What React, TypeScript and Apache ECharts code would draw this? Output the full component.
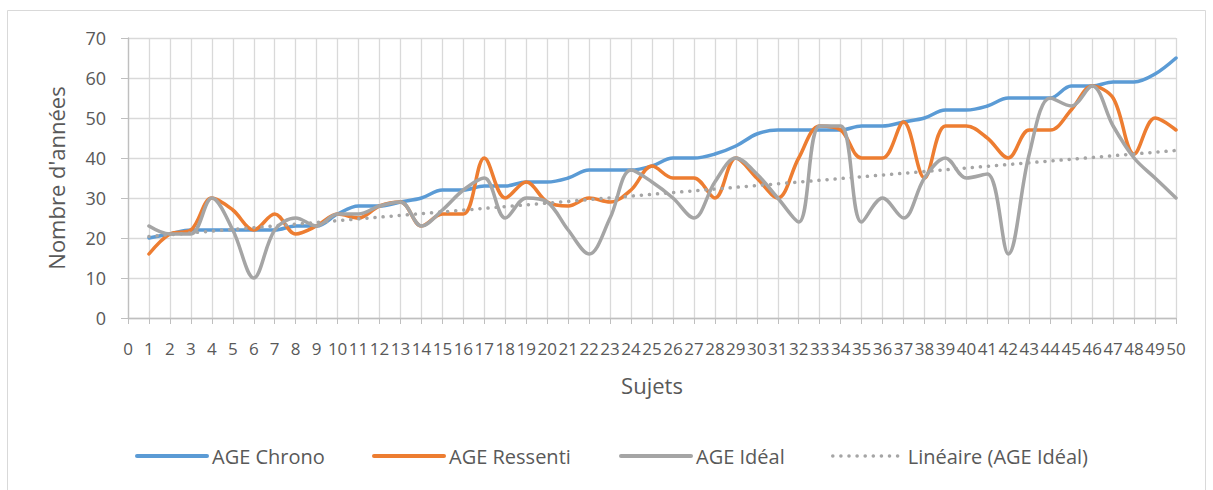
import React, { useEffect, useRef } from "react";
import * as echarts from "echarts";

const categories = ["0","1","2","3","4","5","6","7","8","9","10","11","12","13","14","15","16","17","18","19","20","21","22","23","24","25","26","27","28","29","30","31","32","33","34","35","36","37","38","39","40","41","42","43","44","45","46","47","48","49","50"];

const ageChrono = [20,21,22,22,22,22,22,23,23,26,28,28,29,30,32,32,33,33,34,34,35,37,37,37,38,40,40,41,43,46,47,47,47,47,48,48,49,50,52,52,53,55,55,55,58,58,59,59,61,65];
const ageRessenti = [16,21,22,30,27,22,26,21,23,26,25,28,29,23,26,26,40,30,34,29,28,30,29,32,38,35,35,30,40,35,30,40,48,47,40,40,49,35,48,48,45,40,47,47,52,58,55,41,50,47];
const ageIdeal = [23,21,21,30,22,10,22,25,23,26,26,28,29,23,27,32,35,25,30,29,22,16,25,37,34,30,25,34,40,36,30,24,48,48,24,30,25,35,40,35,36,16,41,55,53,58,48,40,35,30];

const seriesNames = ["AGE Chrono", "AGE Ressenti", "AGE Idéal", "Linéaire (AGE Idéal)"];
const yTicks = { min: 0, max: 70, interval: 10 };

function linearTrend(values: number[]): number[] {
  const n = values.length;
  let sx = 0, sy = 0, sxx = 0, sxy = 0;
  values.forEach((v, i) => {
    const x = i + 1;
    sx += x; sy += v; sxx += x * x; sxy += x * v;
  });
  const slope = (n * sxy - sx * sy) / (n * sxx - sx * sx);
  const intercept = (sy - slope * sx) / n;
  return values.map((_, i) => +(intercept + slope * (i + 1)).toFixed(3));
}

export default function App() {
  const ref = useRef<HTMLDivElement>(null);
  useEffect(() => {
    if (!ref.current) return;
    const chart = echarts.init(ref.current, undefined, { renderer: "svg" });
    const font = "'Open Sans', sans-serif";
    const txt = "#595959";
    const grid = "#d9d9d9";
    const pad = (arr: number[]) => [null, ...arr];
    const trend = linearTrend(ageIdeal);
    const colors = ["#5B9BD5", "#ED7D31", "#A5A5A5", "#A5A5A5"];
    const legendLefts = [135, 372, 619, 831];
    const dotted = [0.1, 8];
    chart.setOption({
      animation: false,
      color: colors,
      textStyle: { fontFamily: font },
      graphic: [
        {
          type: "rect",
          shape: { x: 7.5, y: 10.5, width: 1198, height: 490 },
          style: { fill: "none", stroke: "#d9d9d9", lineWidth: 1 },
          silent: true,
        },
      ],
      grid: { left: 128, top: 38, width: 1048, height: 280, containLabel: false },
      legend: legendLefts.map((l, i) => ({
        data: [seriesNames[i]],
        left: l,
        top: 446,
        padding: 0,
        itemWidth: 70,
        itemHeight: 14,
        itemGap: 0,
        itemStyle: { opacity: 0 },
        lineStyle: i === 3
          ? { width: 3.5, color: colors[i], type: dotted, cap: "round" }
          : { width: 4, color: colors[i] },
        textStyle: { fontFamily: font, fontSize: 20, color: txt },
        selectedMode: false,
      })),
      xAxis: {
        type: "category",
        data: categories,
        boundaryGap: false,
        name: "Sujets",
        nameLocation: "middle",
        nameGap: 56,
        nameTextStyle: { fontFamily: font, fontSize: 22, color: txt },
        axisLine: { lineStyle: { color: "#bfbfbf", width: 1.3 } },
        axisTick: { show: true, length: 6, lineStyle: { color: "#bfbfbf" }, interval: 0 },
        axisLabel: { interval: 0, fontFamily: font, fontSize: 17, color: txt, margin: 22 },
        splitLine: { show: true, interval: 0, lineStyle: { color: grid, width: 1.3 } },
      },
      yAxis: {
        type: "value",
        min: yTicks.min,
        max: yTicks.max,
        interval: yTicks.interval,
        name: "Nombre d'années",
        nameLocation: "middle",
        nameRotate: 90,
        nameGap: 61,
        nameTextStyle: { fontFamily: font, fontSize: 22, color: txt },
        axisLine: { show: true, lineStyle: { color: "#bfbfbf", width: 1.3 } },
        axisTick: { show: true, length: 7, lineStyle: { color: "#bfbfbf" } },
        axisLabel: { fontFamily: font, fontSize: 18, color: txt, margin: 22 },
        splitLine: { show: true, lineStyle: { color: grid, width: 1.3 } },
      },
      series: [
        {
          name: seriesNames[0], type: "line", data: pad(ageChrono), smooth: 0.35,
          symbol: "none", lineStyle: { width: 3.5, color: colors[0], cap: "round" },
        },
        {
          name: seriesNames[1], type: "line", data: pad(ageRessenti), smooth: 0.35,
          symbol: "none", lineStyle: { width: 3.5, color: colors[1], cap: "round" },
        },
        {
          name: seriesNames[2], type: "line", data: pad(ageIdeal), smooth: 0.35,
          symbol: "none", lineStyle: { width: 3.5, color: colors[2], cap: "round" },
        },
        {
          name: seriesNames[3], type: "line", data: pad(trend), smooth: false,
          symbol: "none",
          lineStyle: { width: 3.5, color: colors[3], type: dotted, cap: "round" },
        },
      ],
    });
    return () => chart.dispose();
  }, []);
  return (
    <div
      ref={ref}
      style={{ position: "fixed", left: 0, top: 0, width: 1213, height: 490, background: "#fff" }}
    />
  );
}
